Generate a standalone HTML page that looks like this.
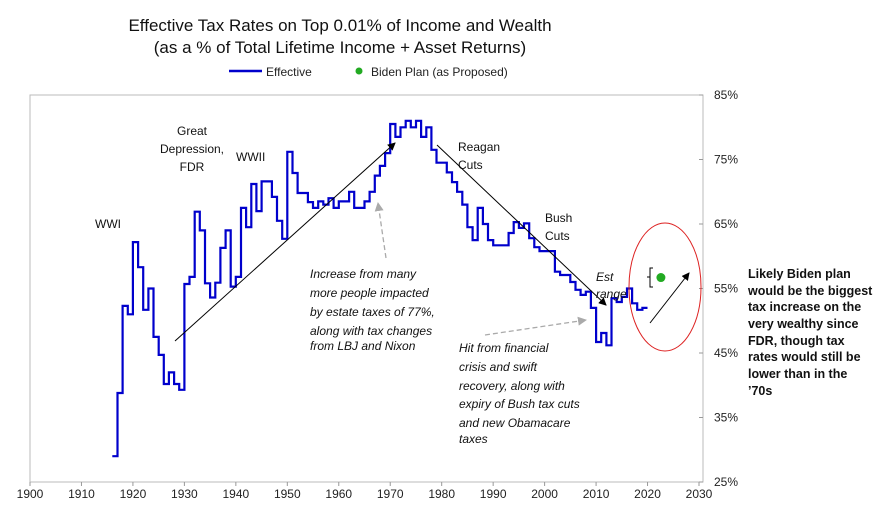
<!DOCTYPE html>
<html><head><meta charset="utf-8"><style>
body{margin:0;background:#fff;}
svg{font-family:"Liberation Sans",sans-serif;}
</style></head><body>
<svg id="chart" width="893" height="527" viewBox="0 0 893 527" xmlns="http://www.w3.org/2000/svg">
<text x="340" y="31" font-size="17" text-anchor="middle" fill="#111">Effective Tax Rates on Top 0.01% of Income and Wealth</text>
<text x="340" y="53" font-size="17" text-anchor="middle" fill="#111">(as a % of Total Lifetime Income + Asset Returns)</text>
<g>
<line x1="229" y1="71" x2="262" y2="71" stroke="#0000cc" stroke-width="2.5"/>
<text x="266" y="76" font-size="12" fill="#222">Effective</text>
<circle cx="359" cy="71" r="3.5" fill="#22aa22"/>
<text x="371" y="76" font-size="12" fill="#222">Biden Plan (as Proposed)</text>
</g>
<rect x="30" y="95" width="673" height="387" fill="none" stroke="#bbb" stroke-width="1"/>
<g id="axes"></g>
<g id="marks"></g>
<g font-size="12" fill="#111">
<text x="95" y="228">WWI</text>
<text x="192" y="135" text-anchor="middle">Great</text>
<text x="192" y="153" text-anchor="middle">Depression,</text>
<text x="192" y="171" text-anchor="middle">FDR</text>
<text x="236" y="161">WWII</text>
<text x="458" y="151">Reagan</text>
<text x="458" y="169">Cuts</text>
<text x="545" y="222">Bush</text>
<text x="545" y="240">Cuts</text>
<text x="596" y="281" font-style="italic">Est</text>
<text x="596" y="298" font-style="italic">range</text>
<g font-style="italic">
<text x="310" y="278">Increase from many</text>
<text x="310" y="297">more people impacted</text>
<text x="310" y="316">by estate taxes of 77%,</text>
<text x="310" y="335">along with tax changes</text>
<text x="310" y="350">from LBJ and Nixon</text>
</g>
<g font-style="italic">
<text x="459" y="352">Hit from financial</text>
<text x="459" y="371">crisis and swift</text>
<text x="459" y="390">recovery, along with</text>
<text x="459" y="408">expiry of Bush tax cuts</text>
<text x="459" y="427">and new Obamacare</text>
<text x="459" y="443">taxes</text>
</g>
<g font-weight="bold" font-size="12.5">
<text x="748" y="278">Likely Biden plan</text>
<text x="748" y="295">would be the biggest</text>
<text x="748" y="311">tax increase on the</text>
<text x="748" y="328">very wealthy since</text>
<text x="748" y="345">FDR, though tax</text>
<text x="748" y="361">rates would still be</text>
<text x="748" y="378">lower than in the</text>
<text x="748" y="395">’70s</text>
</g>
</g>
<defs>
<marker id="ah" markerWidth="8" markerHeight="8" refX="7" refY="4" orient="auto" markerUnits="userSpaceOnUse" viewBox="0 0 8 8"><path d="M0,0 L8,4 L0,8 z" fill="#000"/></marker>
<marker id="ahg" markerWidth="9" markerHeight="9" refX="8" refY="4.5" orient="auto" markerUnits="userSpaceOnUse" viewBox="0 0 9 9"><path d="M0,0 L9,4.5 L0,9 z" fill="#aaa"/></marker>
</defs>
<line x1="175" y1="341" x2="395" y2="143" stroke="#000" stroke-width="1" marker-end="url(#ah)"/>
<line x1="437" y1="145" x2="606" y2="305" stroke="#000" stroke-width="1" marker-end="url(#ah)"/>
<line x1="650" y1="323" x2="689" y2="273" stroke="#000" stroke-width="1" marker-end="url(#ah)"/>
<line x1="386" y1="258" x2="378" y2="203" stroke="#aaa" stroke-width="1.3" stroke-dasharray="5,3" marker-end="url(#ahg)"/>
<line x1="485" y1="335" x2="586" y2="320" stroke="#aaa" stroke-width="1.3" stroke-dasharray="5,3" marker-end="url(#ahg)"/>
<ellipse cx="665" cy="287" rx="36" ry="64" fill="none" stroke="#dd2222" stroke-width="1"/>
<path d="M653,268 L650,268 L650,287 L653,287 M650,277 L647,277" fill="none" stroke="#000" stroke-width="1"/>
</svg>
<script>
const years = [1916,1917,1918,1919,1920,1921,1922,1923,1924,1925,1926,1927,1928,1929,1930,1931,1932,1933,1934,1935,1936,1937,1938,1939,1940,1941,1942,1943,1944,1945,1946,1947,1948,1949,1950,1951,1952,1953,1954,1955,1956,1957,1958,1959,1960,1961,1962,1963,1964,1965,1966,1967,1968,1969,1970,1971,1972,1973,1974,1975,1976,1977,1978,1979,1980,1981,1982,1983,1984,1985,1986,1987,1988,1989,1990,1991,1992,1993,1994,1995,1996,1997,1998,1999,2000,2001,2002,2003,2004,2005,2006,2007,2008,2009,2010,2011,2012,2013,2014,2015,2016,2017,2018,2019];
const effective = [29,38.8,52.3,51,62.2,58.3,51.7,55,47.5,44.7,40.2,42,40.2,39.3,55.7,56.8,66.9,64,55.8,53.6,55.9,61.3,64,55.3,56.8,67.5,64.5,71.2,67,71.6,71.6,69.2,65.5,62.7,76.2,72.9,69.8,69.8,68.4,67.5,68.5,68,69,67.5,68.5,68.5,70,67.5,67.5,68.5,70,72.5,74,76,80.5,78.5,80,81,80,81,78.5,80,76.5,74.5,74.5,73,71.5,70,68,64.5,62.5,67.5,65,62.5,61.7,61.7,61.7,63.6,65.3,64.4,65.1,62.8,61.4,60.8,60.8,60.8,57.6,57.1,57.1,56,54.8,54,54.5,52,46.7,48.1,46.2,53.5,52.9,53.7,55,52.7,51.7,52];
const lastYear = 2020;
const bidenYear = [2022.6];
const bidenValue = [56.7];
const xTicks = [1900,1910,1920,1930,1940,1950,1960,1970,1980,1990,2000,2010,2020,2030];
const yTicks = [25,35,45,55,65,75,85];

const X0=30,X1=699,Y0=482,Y1=95;
function xs(y){return X0+(y-1900)/(2030-1900)*(X1-X0);}
function ys(v){return Y0-(v-25)/(85-25)*(Y0-Y1);}
const NS="http://www.w3.org/2000/svg";
const axes=document.getElementById('axes'), marks=document.getElementById('marks');
function mk(tag,attrs,parent){const e=document.createElementNS(NS,tag);for(const k in attrs)e.setAttribute(k,attrs[k]);parent.appendChild(e);return e;}
xTicks.forEach(t=>{
  const tx=mk('text',{x:xs(t),y:Y0+16,'font-size':12,'text-anchor':'middle',fill:'#222'},axes);
  
  
  tx.textContent=t;
  const tl=mk('line',{x1:xs(t),x2:xs(t),y1:Y0,y2:Y0+4,stroke:'#999'},axes);
  
  
});
yTicks.forEach(t=>{
  const tx=mk('text',{x:714,y:ys(t)+4,'font-size':12,fill:'#222'},axes);
  
  
  tx.textContent=t+'%';
  const tl=mk('line',{x1:699,x2:703,y1:ys(t),y2:ys(t),stroke:'#999'},axes);
  
  
});
let d='';
years.forEach((yr,i)=>{
  const nx=(i<years.length-1)?years[i+1]:lastYear;
  d+=(i===0?'M':'L')+xs(yr).toFixed(1)+','+ys(effective[i]).toFixed(1)+' L'+xs(nx).toFixed(1)+','+ys(effective[i]).toFixed(1)+' ';
});
const p=mk('path',{d:d,fill:'none',stroke:'#0000cc','stroke-width':2.2},marks);


bidenYear.forEach((b,i)=>{
  const c=mk('circle',{cx:xs(b),cy:ys(bidenValue[i]),r:4.5,fill:'#22aa22'},marks);
  
  
});
</script>
</body></html>
